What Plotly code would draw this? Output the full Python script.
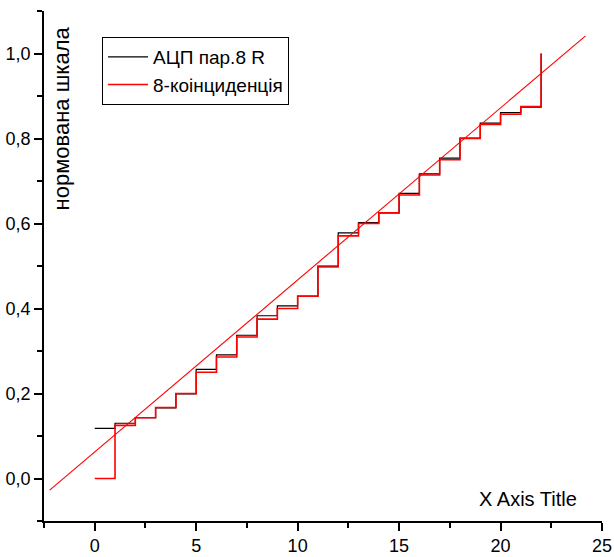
import plotly.graph_objects as go

# ---- data ----
steps_x = list(range(23))
adc_values = [0.118, 0.130, 0.143, 0.166, 0.199, 0.257, 0.291, 0.337, 0.383, 0.406,
              0.429, 0.498, 0.578, 0.602, 0.625, 0.671, 0.717, 0.754, 0.801, 0.836,
              0.861, 0.874, 1.0]
coinc_values = [0.0, 0.125, 0.143, 0.167, 0.2, 0.25, 0.286, 0.333, 0.375, 0.4,
                0.429, 0.5, 0.571, 0.6, 0.625, 0.667, 0.714, 0.75, 0.8, 0.833,
                0.857, 0.875, 1.0]
fit_x = [-2.22, 24.19]
fit_y = [-0.0275, 1.0416]

series_names = ["АЦП пар.8 R", "8-коінциденція"]
y_title = "нормована шкала"
x_title = "X Axis Title"
x_ticks = [0, 5, 10, 15, 20, 25]
y_ticks = [0.0, 0.2, 0.4, 0.6, 0.8, 1.0]

FONT = "Liberation Sans, Arial, sans-serif"

fig = go.Figure()
fig.add_trace(go.Scatter(x=steps_x, y=adc_values, mode="lines", line_shape="hv",
                         line=dict(color="black", width=1.2), name=series_names[0]))
fig.add_trace(go.Scatter(x=steps_x, y=coinc_values, mode="lines", line_shape="hv",
                         line=dict(color="#ff0000", width=1.6), name=series_names[1]))
fig.add_trace(go.Scatter(x=fit_x, y=fit_y, mode="lines",
                         line=dict(color="#ff0000", width=1.1), showlegend=False))

axis_common = dict(showgrid=False, zeroline=False, showline=True, linecolor="black",
                   linewidth=1.5, ticks="outside", ticklen=8, tickwidth=1.5,
                   tickcolor="black", mirror=False, automargin=False,
                   tickfont=dict(family=FONT, size=18, color="black"))

fig.update_xaxes(range=[-2.5, 25], tickvals=x_ticks,
                 minor=dict(dtick=2.5, tick0=0, ticks="outside", ticklen=5,
                            tickwidth=1.5, tickcolor="black"),
                 **axis_common)
fig.update_yaxes(range=[-0.1, 1.1], tickvals=y_ticks, tickformat=".1f",
                 minor=dict(dtick=0.1, tick0=0, ticks="outside", ticklen=5,
                            tickwidth=1.5, tickcolor="black"),
                 **axis_common)

fig.update_layout(
    width=614, height=557,
    margin=dict(l=44, r=12, t=11, b=36, autoexpand=False),
    paper_bgcolor="white", plot_bgcolor="white",
    separators=",.",
    font=dict(family=FONT, color="black"),
    legend=dict(x=0.104, y=0.949, xanchor="left", yanchor="top",
                bordercolor="black", borderwidth=1, bgcolor="white",
                font=dict(family=FONT, size=19, color="black"),
                itemwidth=40, tracegroupgap=0),
    annotations=[
        dict(text=y_title, xref="paper", yref="paper", x=0.032, y=0.789,
             xanchor="center", yanchor="middle", textangle=-90, showarrow=False,
             font=dict(family=FONT, size=22, color="black")),
        dict(text=x_title, xref="paper", yref="paper", x=0.867, y=0.043,
             xanchor="center", yanchor="middle", showarrow=False,
             font=dict(family=FONT, size=20, color="black")),
    ],
)

fig.write_html("out.html", config={"displayModeBar": False},
               post_script="document.body.style.margin='0';document.body.style.overflow='hidden';")
